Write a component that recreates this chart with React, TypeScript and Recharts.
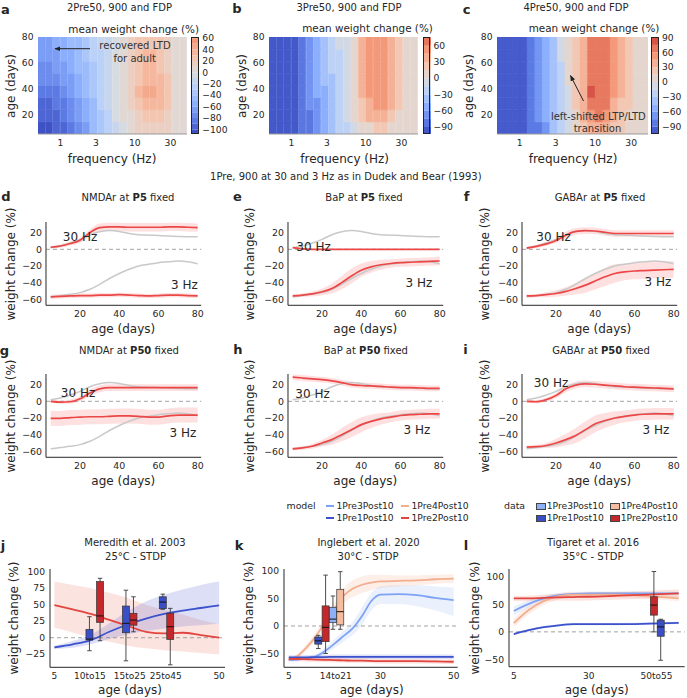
import React from "react";
import { BarChart, Bar, Cell, ComposedChart, Line, Area, XAxis, YAxis, ReferenceLine } from "recharts";

const FONT = "'DejaVu Sans', sans-serif";
const INK = "#262626";

// heat maps a-c: rows go from young to old, columns are log10(frequency) bins
const LOGF = [-0.25, -0.15, -0.05, 0.05, 0.15, 0.25, 0.35, 0.45, 0.55, 0.65, 0.75, 0.85, 0.95, 1.05, 1.15, 1.25, 1.35, 1.45, 1.55, 1.65];
const AGE_EDGES = [5, 14.375, 23.75, 33.125, 42.5, 51.875, 61.25, 70.625, 80];
const FREQ_TICKS = [1, 3, 10, 30];
const AGE_TICKS = [20, 40, 60, 80];

const MAP_2PRE = [
  [-104, -102, -98, -93, -86, -76, -64, -50, -36, -24, -12, -3, 4, 10, 15, 18, 16, 10, 4, 0],
  [-100, -98, -94, -88, -80, -70, -58, -46, -33, -21, -10, 0, 8, 18, 26, 28, 24, 15, 6, 2],
  [-94, -92, -88, -82, -74, -64, -53, -42, -30, -19, -8, 2, 12, 26, 36, 38, 32, 20, 8, 3],
  [-88, -86, -82, -76, -68, -58, -48, -38, -27, -17, -6, 4, 16, 30, 40, 42, 35, 22, 9, 3],
  [-80, -78, -74, -68, -61, -53, -44, -35, -25, -15, -5, 5, 16, 28, 36, 38, 32, 20, 8, 3],
  [-74, -72, -68, -63, -56, -49, -41, -32, -23, -14, -4, 5, 15, 26, 32, 33, 28, 18, 7, 3],
  [-68, -66, -63, -58, -52, -45, -38, -30, -21, -13, -4, 5, 15, 25, 30, 30, 26, 16, 7, 3],
  [-64, -62, -59, -55, -49, -43, -36, -28, -20, -12, -3, 5, 14, 24, 28, 28, 24, 15, 6, 3],
];
const MAP_3PRE = [
  [-101, -101, -100, -97, -90, -80, -68, -55, -42, -29, -16, -4, 6, 14, 20, 20, 14, 6, 1, 0],
  [-101, -101, -100, -96, -88, -77, -64, -50, -36, -22, -8, 5, 20, 33, 38, 36, 28, 12, 3, 0],
  [-101, -100, -99, -95, -86, -74, -61, -47, -33, -19, -5, 10, 28, 42, 48, 45, 33, 18, 4, 0],
  [-101, -100, -99, -94, -85, -73, -60, -46, -32, -18, -4, 12, 32, 48, 55, 48, 36, 20, 5, 0],
  [-101, -100, -98, -93, -84, -72, -59, -45, -31, -17, -3, 13, 32, 45, 48, 45, 35, 20, 5, 0],
  [-101, -100, -98, -93, -83, -71, -58, -44, -30, -16, -2, 13, 33, 45, 47, 45, 35, 20, 5, 0],
  [-101, -100, -98, -92, -83, -71, -58, -44, -30, -16, -2, 14, 34, 46, 48, 46, 35, 20, 5, 0],
  [-101, -100, -98, -92, -82, -70, -57, -43, -29, -15, -1, 14, 34, 46, 50, 46, 35, 19, 5, 0],
];
const MAP_4PRE = [
  [-103, -103, -102, -98, -90, -78, -62, -45, -28, -12, 5, 20, 35, 40, 35, 25, 15, 10, 6, 4],
  [-103, -103, -101, -97, -88, -75, -58, -40, -22, -5, 12, 32, 55, 60, 48, 35, 22, 14, 8, 5],
  [-103, -102, -100, -95, -86, -72, -55, -37, -19, -2, 15, 38, 70, 72, 60, 42, 28, 16, 9, 5],
  [-103, -102, -100, -95, -85, -71, -54, -36, -18, -1, 16, 40, 78, 72, 62, 45, 30, 18, 10, 5],
  [-103, -102, -100, -94, -84, -70, -53, -35, -17, 0, 17, 40, 66, 68, 60, 45, 30, 18, 10, 5],
  [-103, -102, -99, -94, -83, -69, -52, -34, -16, 1, 18, 40, 65, 67, 60, 45, 30, 18, 10, 5],
  [-103, -102, -99, -93, -82, -68, -51, -33, -15, 2, 18, 40, 65, 67, 60, 45, 30, 18, 10, 5],
  [-103, -102, -99, -93, -82, -67, -50, -32, -14, 2, 18, 40, 64, 66, 60, 45, 30, 18, 10, 5],
];

const CB_LEVELS_A = [-110, -100, -90, -80, -70, -60, -50, -40, -30, -20, -10, 0, 10, 20, 30, 40, 50, 60, 70];
const CB_LEVELS_BC = [-105, -90, -75, -60, -45, -30, -15, 0, 15, 30, 45, 60, 75, 90, 105];
const CB_TICKS_A = [-100, -80, -60, -40, -20, 0, 20, 40, 60];
const CB_TICKS_B = [-90, -60, -30, 0, 30, 60];
const CB_TICKS_C = [-90, -60, -30, 0, 30, 60, 90];

// panels d-i: 30 Hz and 3 Hz responses vs age
const AGES = [5, 10, 15, 20, 25, 30, 35, 40, 45, 50, 55, 60, 65, 70, 75, 80];
const GRAY_30 = [2, 4, 7.5, 12, 17.5, 21, 22.5, 21.5, 19, 17.5, 17, 16.5, 16, 15.5, 15, 15];
const GRAY_3 = [-57, -55.5, -54, -52, -48, -42, -35, -29, -24, -20, -18, -16, -15, -14, -15, -17.5];

const D_30 = [2.5, 4, 7, 11, 20, 26, 27, 27, 26.5, 26.5, 26.5, 26.5, 27, 27, 26.5, 26];
const D_30_SD = [1.5, 2, 2.5, 3, 4, 5, 5, 5, 5, 5, 5, 5, 5, 5, 5, 5];
const D_3 = [-57, -56.5, -56, -55.5, -55.5, -55, -55, -54.5, -55, -55.5, -56, -55.5, -55, -55, -55.5, -56];
const D_3_SD = [2.5, 2.5, 2.5, 2.5, 2.5, 2.5, 2.5, 2.5, 2.5, 2.5, 2.5, 2.5, 2.5, 2.5, 2.5, 2.5];

const E_30 = [2, 0.5, 0, 0, 0, 0, 0, 0, 0, 0, 0, 0, 0, 0, 0, 0];
const E_30_SD = [1, 0.5, 0.5, 0.5, 0.5, 0.5, 0.5, 0.5, 0.5, 0.5, 0.5, 0.5, 0.5, 0.5, 0.5, 0.5];
const E_3 = [-56, -55, -53.5, -51, -47, -40, -32, -25, -21, -18.5, -17, -16, -15.5, -15, -14.5, -14];
const E_3_SD = [2, 2, 3, 4, 6, 8, 9, 8, 7, 6, 5, 5, 5, 5, 5, 5];

const F_30 = [1.5, 3.5, 6.5, 10.5, 17, 21.5, 22.5, 22, 20.5, 19, 19, 19, 19, 19, 19, 19];
const F_30_SD = [1.5, 2, 2.5, 3, 4, 4, 4, 4, 4, 4, 4, 4, 4, 4, 4, 4];
const F_3 = [-56, -55.5, -54.5, -53, -50.5, -47, -43, -38, -33, -29, -27, -26, -25.5, -25, -24.5, -24];
const F_3_SD = [2, 2, 3, 4, 5, 7, 9, 10, 11, 11, 10, 10, 10, 10, 10, 10];

const G_30 = [0, -1, -0.5, 3, 10, 15, 16.5, 16.5, 16.5, 16.5, 16.5, 16.5, 16.5, 16.5, 16.5, 16.5];
const G_30_SD = [1.5, 2, 2.5, 3, 4, 4, 4, 4, 4, 4, 4, 4, 4, 4, 4, 4];
const G_3 = [-20.5, -20.5, -19.5, -19, -18.5, -18.5, -18, -17.5, -17.5, -18, -19, -19, -17.5, -16.5, -16.5, -16.5];
const G_3_SD = [9, 9, 9, 9, 9, 9, 9, 9, 9, 9, 9, 9, 9, 9, 9, 9];

const H_30 = [29, 28, 27, 26, 24.5, 22.5, 20, 19, 18.5, 18, 17, 16.5, 16.5, 16, 15.5, 15.5];
const H_30_SD = [3.5, 3.5, 3.5, 3.5, 3.5, 3.5, 3.5, 3.5, 3.5, 3.5, 3.5, 3.5, 3.5, 3.5, 3.5, 3.5];
const H_3 = [-57, -56, -54, -50, -46, -40, -34, -28, -24, -21, -19, -17, -16, -15.5, -15, -15];
const H_3_SD = [2, 2, 3, 4, 6, 8, 9, 9, 8, 7, 6, 6, 6, 6, 6, 6];

const I_30 = [0, -0.5, 2, 7, 15, 19.5, 21, 20.5, 19.5, 18.5, 17.5, 17, 16.5, 16, 15.5, 15];
const I_30_SD = [1.5, 2, 2.5, 3, 4, 4, 4, 4, 4, 4, 4, 4, 4, 4, 4, 4];
const I_3 = [-55, -54.5, -53, -50, -46, -41, -34, -27, -23, -20, -18, -16.5, -15.5, -15, -15, -15];
const I_3_SD = [2, 2, 3, 5, 7, 9, 10, 10, 9, 8, 7, 7, 7, 7, 7, 7];

// panels j-l: model curves (line, lower, upper) and data boxes [min, q1, median, q3, max]
const J_AGE = [5, 10, 15, 20, 25, 30, 35, 40, 45, 50];
const J_DBLUE = [-14.5, -10, -3.5, 9, 20, 29, 36, 41, 45, 49];
const J_DBLUE_LO = [-17, -15, -10, -2, 5, 10, 14, 17, 19, 21];
const J_DBLUE_HI = [-12, -5, 5, 22, 40, 55, 65, 73, 80, 85];
const J_RED = [49.5, 43, 36, 27, 18, 9, 6.5, 7.5, 4, 0];
const J_RED_LO = [15, 8, 0, -6, -12, -16, -19, -21, -23, -25];
const J_RED_HI = [85, 80, 75, 68, 60, 50, 42, 35, 27, 20];
const J_BOX_X = [14.64, 17.54, 24.61, 26.66, 34.67, 36.71];
const J_BOX_KIND = ["dblue", "red", "dblue", "red", "dblue", "red"];
const J_BOX_STATS = [
  [-19.7, -3.5, -2, 12.7, 31.8],
  [-4.5, 23.3, 33, 85, 90],
  [-35, 7.6, 21.8, 48, 72],
  [9, 19, 26.8, 37, 62],
  [43, 44, 54, 62, 66],
  [-41, -2.5, 16.7, 37, 44.5],
];

const K_AGE = [5, 7.5, 10, 12.5, 15, 17.5, 20, 22.5, 25, 27.5, 30, 35, 40, 45, 50];
const K_LBLUE = [-62, -61, -59, -55, -45, -32, -18, -4, 18, 45, 57, 58, 56, 51, 47];
const K_LBLUE_LO = [-65, -64, -62, -59, -51, -40, -28, -16, 2, 28, 40, 40, 36, 28, 18];
const K_LBLUE_HI = [-59, -58, -56, -51, -39, -24, -8, 8, 34, 60, 72, 74, 74, 72, 70];
const K_PEACH = [-62, -54, -38, -18, 8, 32, 55, 68, 75, 79, 81, 82, 83, 85, 86];
const K_PEACH_LO = [-65, -58, -44, -26, -2, 20, 41, 53, 60, 65, 69, 72, 74, 77, 78];
const K_PEACH_HI = [-59, -50, -32, -10, 18, 44, 69, 83, 90, 93, 93, 92, 92, 93, 94];
const K_DBLUE = [-57, -57, -57, -56.5, -56.5, -56, -56, -56, -56, -56, -56, -56, -56, -56, -56];
const K_DBLUE_LO = [-61, -61, -61, -60.5, -60.5, -60, -60, -60, -60, -60, -60, -60, -60, -60, -60];
const K_DBLUE_HI = [-53, -53, -53, -52.5, -52.5, -52, -52, -52, -52, -52, -52, -52, -52, -52, -52];
const K_RED = [-60, -60, -60.5, -61, -61.5, -62, -62.5, -63, -63, -63.5, -64, -64, -64, -64.5, -65];
const K_RED_LO = [-64, -64, -64.5, -65, -65.5, -66, -66.5, -67, -67, -67.5, -68, -68, -68, -68.5, -69];
const K_RED_HI = [-56, -56, -56.5, -57, -57.5, -58, -58.5, -59, -59, -59.5, -60, -60, -60, -60.5, -61];
const K_BOX_X = [13.1, 15.1, 17.1, 19.1];
const K_BOX_KIND = ["dblue", "red", "lblue", "peach"];
const K_BOX_STATS = [
  [-41, -33, -27, -20, -17],
  [-50, -28.5, -2.4, 36.5, 92.5],
  [-6, 6, 12.5, 34, 54.5],
  [-6, 2, 26, 66.7, 98.7],
];

const L_AGE = [5, 10, 15, 20, 25, 30, 40, 50, 60];
const L_DBLUE = [-4, 3, 8.5, 12, 14, 14, 14, 15, 16.5];
const L_DBLUE_LO = [-6, 1, 6.5, 10, 12, 12, 12, 13, 14.5];
const L_DBLUE_HI = [-2, 5, 10.5, 14, 16, 16, 16, 17, 18.5];
const L_LBLUE = [38, 51, 61, 67, 69, 70, 70, 70, 70];
const L_LBLUE_LO = [30, 44, 56, 63, 66, 67, 67, 67, 67];
const L_LBLUE_HI = [46, 58, 66, 71, 72, 73, 73, 73, 73];
const L_PEACH = [16, 40, 56, 65, 68, 68, 68, 65, 61];
const L_PEACH_LO = [8, 32, 49, 59, 63, 63, 63, 60, 56];
const L_PEACH_HI = [24, 48, 63, 71, 73, 73, 73, 70, 66];
const L_RED = [61, 61, 62, 63, 63.5, 64, 66, 68, 70];
const L_RED_LO = [56, 56, 56, 57, 56.5, 57, 59, 61, 63];
const L_RED_HI = [66, 66, 68, 69, 70.5, 71, 73, 75, 77];
const L_BOX_X = [51.7, 53.97];
const L_BOX_KIND = ["red", "dblue"];
const L_BOX_STATS = [
  [0, 30.5, 48.8, 64, 110],
  [-51.8, -8, 9, 21.4, 23],
];

const LINE_C: Record<string, string> = { lblue: "#7ea2f4", peach: "#f3ae8e", dblue: "#3c52cc", red: "#e2453f" };
const BAND_C: Record<string, string> = {
  lblue: "rgba(135,165,245,0.28)",
  peach: "rgba(245,165,130,0.32)",
  dblue: "rgba(90,100,210,0.35)",
  red: "rgba(238,125,105,0.35)",
};
const BOX_C: Record<string, string> = { lblue: "#8db1f6", peach: "#f6bc9f", dblue: "#3a4fc6", red: "#c4282c" };

const CW_T = [0, 0.125, 0.25, 0.375, 0.5, 0.625, 0.75, 0.875, 1];
const CW_RGB = [
  [59, 76, 192], [98, 130, 234], [141, 176, 254], [184, 208, 249], [221, 221, 221],
  [245, 196, 173], [244, 154, 123], [222, 96, 77], [180, 4, 38],
];

function coolwarm(t: number) {
  const u = Math.max(0, Math.min(1, t));
  let i = 0;
  while (i < CW_T.length - 2 && u > CW_T[i + 1]) i++;
  const f = (u - CW_T[i]) / (CW_T[i + 1] - CW_T[i]);
  const c = CW_RGB[i].map((v, k) => Math.round(v + (CW_RGB[i + 1][k] - v) * f));
  return `rgb(${c[0]},${c[1]},${c[2]})`;
}

function levelColor(v: number, step: number, lim: number) {
  const mid = (Math.floor(v / step) + 0.5) * step;
  return coolwarm(0.5 + mid / (2 * lim));
}

const fmt = (v: number) => (v < 0 ? `\u2212${Math.abs(v)}` : `${v}`);
const tickStyle = (s = 9.4) => ({ fontSize: s, fill: INK, fontFamily: FONT });

type Box = { x: number; y: number; w: number; h: number };
const PL = 40;
const PR = 6;
const PT = 6;
const PB = 30;

const frame = (b: Box): React.CSSProperties => ({ position: "absolute", left: b.x - PL, top: b.y - PT });

function HeatMap({ grid, box, step, lim }: { grid: number[][]; box: Box; step: number; lim: number }) {
  const rows = LOGF.map((lf) => {
    const r: Record<string, number> = { lf, base: AGE_EDGES[0] };
    grid.forEach((_, k) => {
      r[`r${k}`] = AGE_EDGES[k + 1] - AGE_EDGES[k];
    });
    return r;
  });
  return (
    <div style={frame(box)}>
      <BarChart
        width={box.w + PL + PR}
        height={box.h + PT + PB}
        data={rows}
        margin={{ top: PT, right: PR, left: 0, bottom: 0 }}
        barCategoryGap={0}
        barGap={0}
      >
        <XAxis
          dataKey="lf"
          type="number"
          domain={[-0.3, 1.7]}
          allowDataOverflow
          ticks={FREQ_TICKS.map((f) => Math.log10(f))}
          tickFormatter={(v: number) => `${Math.round(10 ** v)}`}
          interval={0}
          height={PB}
          tick={tickStyle(9.2)}
          tickLine={false}
          tickSize={3}
          tickMargin={2.5}
          axisLine={{ stroke: "#999" }}
        />
        <YAxis
          type="number"
          domain={[5, 80]}
          allowDataOverflow
          ticks={AGE_TICKS}
          interval={0}
          width={PL}
          tick={tickStyle(9.2)}
          tickLine={false}
          tickSize={2}
          tickMargin={2.5}
          axisLine={false}
        />
        <Bar dataKey="base" stackId="h" fill="none" isAnimationActive={false} />
        {grid.map((row, k) => (
          <Bar key={k} dataKey={`r${k}`} stackId="h" isAnimationActive={false}>
            {row.map((v, i) => {
              const c = levelColor(v, step, lim);
              return <Cell key={i} fill={c} stroke={c} strokeWidth={0.6} />;
            })}
          </Bar>
        ))}
      </BarChart>
    </div>
  );
}

function ColorBar({ box, levels, ticks, domain, lim }: { box: Box; levels: number[]; ticks: number[]; domain: number[]; lim: number }) {
  const segs = levels.slice(0, -1).map((lo, i) => [lo, levels[i + 1]]);
  const ordered = [...segs.filter((s) => s[0] >= 0), ...segs.filter((s) => s[1] <= 0).reverse()];
  const row: Record<string, number | string> = { k: "cb" };
  ordered.forEach(([lo, hi], i) => {
    row[`s${i}`] = lo >= 0 ? hi - lo : lo - hi;
  });
  return (
    <>
      <div style={{ position: "absolute", left: box.x, top: box.y - 6 }}>
        <BarChart
          width={box.w + 34}
          height={box.h + 12}
          data={[row]}
          margin={{ top: 6, right: 0, left: 0, bottom: 6 }}
          stackOffset="sign"
          barCategoryGap={0}
          barGap={0}
        >
          <XAxis dataKey="k" hide />
          <YAxis
            orientation="right"
            type="number"
            domain={domain}
            allowDataOverflow
            ticks={ticks}
            interval={0}
            width={34}
            tickFormatter={fmt}
            tick={tickStyle(9.2)}
            tickLine={false}
            tickSize={0}
            tickMargin={3}
            axisLine={false}
          />
          {ordered.map((s, i) => (
            <Bar key={i} dataKey={`s${i}`} stackId="c" fill={coolwarm(0.5 + (s[0] + s[1]) / (4 * lim))} isAnimationActive={false} />
          ))}
        </BarChart>
      </div>
      <div style={{ position: "absolute", left: box.x, top: box.y, width: box.w, height: box.h, border: "1px solid #222", boxSizing: "border-box" }} />
    </>
  );
}

const GRAY = "#c9c9c9";
const RED = "#ec4747";

function RatePanel({ box, r30, s30, r3, s3 }: { box: Box; r30: number[]; s30: number[]; r3: number[]; s3: number[] }) {
  const rows = AGES.map((age, i) => ({
    age,
    g30: GRAY_30[i],
    g3: GRAY_3[i],
    r30: r30[i],
    r3: r3[i],
    r30b: [r30[i] - s30[i], r30[i] + s30[i]],
    r3b: [r3[i] - s3[i], r3[i] + s3[i]],
  }));
  return (
    <div style={frame(box)}>
      <ComposedChart width={box.w + PL + PR} height={box.h + PT + PB} data={rows} margin={{ top: PT, right: PR, left: 0, bottom: 0 }}>
        <XAxis
          dataKey="age"
          type="number"
          domain={[2.6, 81.8]}
          allowDataOverflow
          ticks={[20, 40, 60, 80]}
          interval={0}
          height={PB}
          tick={tickStyle()}
          tickLine={false}
          tickSize={3}
          tickMargin={2.5}
          axisLine={{ stroke: INK }}
        />
        <YAxis
          type="number"
          domain={[-67.2, 32.8]}
          allowDataOverflow
          ticks={[-60, -40, -20, 0, 20]}
          interval={0}
          width={PL}
          tickFormatter={fmt}
          tick={tickStyle()}
          tickLine={false}
          tickSize={2}
          tickMargin={2}
          axisLine={{ stroke: INK }}
        />
        <ReferenceLine y={0} stroke="#8a8a8a" strokeDasharray="4 3" strokeWidth={0.8} />
        <Line dataKey="g30" type="monotone" stroke={GRAY} strokeWidth={1.5} dot={false} activeDot={false} isAnimationActive={false} />
        <Line dataKey="g3" type="monotone" stroke={GRAY} strokeWidth={1.5} dot={false} activeDot={false} isAnimationActive={false} />
        <Area dataKey="r30b" type="monotone" stroke="none" fill="rgba(250,120,120,0.38)" isAnimationActive={false} />
        <Area dataKey="r3b" type="monotone" stroke="none" fill="rgba(250,120,120,0.38)" isAnimationActive={false} />
        <Line dataKey="r30" type="monotone" stroke={RED} strokeWidth={1.7} dot={false} activeDot={false} isAnimationActive={false} />
        <Line dataKey="r3" type="monotone" stroke={RED} strokeWidth={1.7} dot={false} activeDot={false} isAnimationActive={false} />
      </ComposedChart>
    </div>
  );
}

function BoxShape(props: any) {
  const { x, y, width, height, payload } = props;
  if (!payload || !isFinite(y) || !isFinite(height)) return null;
  const top = Math.min(y, y + height);
  const span = Math.abs(height);
  const { min, q1, med, q3, max, fill } = payload;
  // place quartiles between the two library-scaled ends of the whisker
  const py = (v: number) => top + ((max - v) / (max - min)) * span;
  const cx = x + width / 2;
  const cap = width * 0.32;
  return (
    <g>
      <line x1={cx} x2={cx} y1={py(max)} y2={py(min)} stroke="#3a3a3a" strokeWidth={0.9} />
      <line x1={cx - cap} x2={cx + cap} y1={py(max)} y2={py(max)} stroke="#3a3a3a" strokeWidth={0.9} />
      <line x1={cx - cap} x2={cx + cap} y1={py(min)} y2={py(min)} stroke="#3a3a3a" strokeWidth={0.9} />
      <rect x={x} y={py(q3)} width={width} height={Math.max(0.5, py(q1) - py(q3))} fill={fill} stroke="#333" strokeWidth={0.7} />
      <line x1={x} x2={x + width} y1={py(med)} y2={py(med)} stroke="#111" strokeWidth={1} />
    </g>
  );
}

type Series = { kind: string; line: number[]; lo: number[]; hi: number[] };

function StatPanel({
  box, xDomain, yDomain, xTicks, xLabels, yTicks, ages, series, boxX, boxKind, boxStats,
}: {
  box: Box; xDomain: number[]; yDomain: number[]; xTicks: number[]; xLabels: string[]; yTicks: number[];
  ages: number[]; series: Series[]; boxX: number[]; boxKind: string[]; boxStats: number[][];
}) {
  const rows = ages.map((x, i) => {
    const r: Record<string, any> = { x };
    series.forEach((s) => {
      r[s.kind] = s.line[i];
      r[`${s.kind}B`] = [s.lo[i], s.hi[i]];
    });
    return r;
  });
  const boxes = boxX.map((x, i) => {
    const [min, q1, med, q3, max] = boxStats[i];
    return { x, min, q1, med, q3, max, fill: BOX_C[boxKind[i]] };
  });
  const W = box.w + PL + PR;
  const H = box.h + PT + PB;
  return (
    <>
      <div style={frame(box)}>
        <ComposedChart width={W} height={H} data={rows} margin={{ top: PT, right: PR, left: 0, bottom: 0 }}>
          <XAxis
            dataKey="x"
            type="number"
            domain={xDomain}
            allowDataOverflow
            ticks={xTicks}
            interval={0}
            tickFormatter={(_v: number, i: number) => xLabels[i]}
            height={PB}
            tick={tickStyle(9)}
            tickLine={false}
            tickSize={3}
            tickMargin={2.5}
            axisLine={{ stroke: INK }}
          />
          <YAxis
            type="number"
            domain={yDomain}
            allowDataOverflow
            ticks={yTicks}
            interval={0}
            width={PL}
            tickFormatter={fmt}
            tick={tickStyle(9.2)}
            tickLine={false}
            tickSize={2}
            tickMargin={3}
            axisLine={{ stroke: INK }}
          />
          <ReferenceLine y={0} stroke="#8a8a8a" strokeDasharray="4 3" strokeWidth={0.8} />
          {series.map((s) => (
            <Area key={`${s.kind}B`} dataKey={`${s.kind}B`} type="monotone" stroke="none" fill={BAND_C[s.kind]} isAnimationActive={false} />
          ))}
          {series.map((s) => (
            <Line key={s.kind} dataKey={s.kind} type="monotone" stroke={LINE_C[s.kind]} strokeWidth={1.8} dot={false} activeDot={false} isAnimationActive={false} />
          ))}
        </ComposedChart>
      </div>
      <div style={frame(box)}>
        <BarChart width={W} height={H} data={boxes} margin={{ top: PT, right: PR, left: PL, bottom: PB }} barCategoryGap={0} barGap={0}>
          <XAxis dataKey="x" type="number" domain={xDomain} allowDataOverflow hide />
          <YAxis type="number" domain={yDomain} allowDataOverflow hide />
          <Bar dataKey={(d: any) => [d.min, d.max]} shape={(p: any) => <BoxShape {...p} />} isAnimationActive={false} />
        </BarChart>
      </div>
    </>
  );
}

function T({
  x, y, s = 10, w, r, a = "c", c = INK, children,
}: { x: number; y: number; s?: number; w?: boolean; r?: boolean; a?: "l" | "c"; c?: string; children: React.ReactNode }) {
  const shift = a === "l" ? "0" : "-50%";
  return (
    <div
      style={{
        position: "absolute",
        left: x,
        top: y,
        fontSize: s,
        fontWeight: w ? 700 : 400,
        color: c,
        lineHeight: 1,
        whiteSpace: "nowrap",
        transform: `translate(${shift}, -50%)${r ? " rotate(-90deg)" : ""}`,
      }}
    >
      {children}
    </div>
  );
}

const LEGEND_NAMES = ["1Pre3Post10", "1Pre4Post10", "1Pre1Post10", "1Pre2Post10"];
const LEGEND_KINDS = ["lblue", "peach", "dblue", "red"];

function Legend() {
  const colX = [0, 75];
  return (
    <>
      <T x={286.5} y={506} s={9.4} a="l">model</T>
      <T x={504} y={506} s={9.4} a="l">data</T>
      {LEGEND_NAMES.map((name, i) => {
        const cx = colX[i % 2];
        const y = i < 2 ? 506 : 518.3;
        return (
          <React.Fragment key={name}>
            <div style={{ position: "absolute", left: 325.7 + cx, top: y - 1, width: 8.5, height: 2, background: LINE_C[LEGEND_KINDS[i]] }} />
            <T x={336.5 + cx} y={y} s={9.2} a="l">{name}</T>
            <div style={{ position: "absolute", left: 536 + cx * 0.987, top: y - 3.5, width: 10, height: 7, background: BOX_C[LEGEND_KINDS[i]], border: "0.8px solid #444", boxSizing: "border-box" }} />
            <T x={546.7 + cx * 0.987} y={y} s={9.2} a="l">{name}</T>
          </React.Fragment>
        );
      })}
    </>
  );
}

const ROW1 = 222;
const ROW2 = 374;
const RW = 155.2;
const RH = 83.3;

export default function App() {
  return (
    <div
      style={{
        position: "absolute",
        left: 0,
        top: 0,
        width: 687,
        height: 698,
        background: "#fff",
        fontFamily: FONT,
        color: INK,
        overflow: "hidden",
      }}
    >
      {/* a-c */}
      <HeatMap grid={MAP_2PRE} box={{ x: 37.7, y: 37, w: 149, h: 97 }} step={10} lim={108} />
      <ColorBar box={{ x: 190.7, y: 37, w: 8.3, h: 97 }} levels={CB_LEVELS_A} ticks={CB_TICKS_A} domain={[-108, 62]} lim={108} />
      <HeatMap grid={MAP_3PRE} box={{ x: 269.3, y: 37, w: 149, h: 97 }} step={15} lim={103} />
      <ColorBar box={{ x: 422.7, y: 37, w: 7.5, h: 97 }} levels={CB_LEVELS_BC} ticks={CB_TICKS_B} domain={[-103, 76]} lim={103} />
      <HeatMap grid={MAP_4PRE} box={{ x: 497.3, y: 37, w: 151, h: 97 }} step={15} lim={105} />
      <ColorBar box={{ x: 651, y: 37, w: 8, h: 97 }} levels={CB_LEVELS_BC} ticks={CB_TICKS_C} domain={[-105, 91]} lim={105} />

      {/* d-i */}
      <RatePanel box={{ x: 45.7, y: ROW1, w: RW, h: RH }} r30={D_30} s30={D_30_SD} r3={D_3} s3={D_3_SD} />
      <RatePanel box={{ x: 287.7, y: ROW1, w: RW, h: RH }} r30={E_30} s30={E_30_SD} r3={E_3} s3={E_3_SD} />
      <RatePanel box={{ x: 521.7, y: ROW1, w: RW, h: RH }} r30={F_30} s30={F_30_SD} r3={F_3} s3={F_3_SD} />
      <RatePanel box={{ x: 45.7, y: ROW2, w: RW, h: RH }} r30={G_30} s30={G_30_SD} r3={G_3} s3={G_3_SD} />
      <RatePanel box={{ x: 287.7, y: ROW2, w: RW, h: RH }} r30={H_30} s30={H_30_SD} r3={H_3} s3={H_3_SD} />
      <RatePanel box={{ x: 521.7, y: ROW2, w: RW, h: RH }} r30={I_30} s30={I_30_SD} r3={I_3} s3={I_3_SD} />

      {/* j-l */}
      <StatPanel
        box={{ x: 50, y: 569, w: 175, h: 98.3 }}
        xDomain={[3.8, 51.6]}
        yDomain={[-44.8, 104.1]}
        xTicks={[5, 14.7, 25.6, 35.4, 50]}
        xLabels={["5", "10to15", "15to25", "25to45", "50"]}
        yTicks={[-25, 0, 25, 50, 75, 100]}
        ages={J_AGE}
        series={[
          { kind: "red", line: J_RED, lo: J_RED_LO, hi: J_RED_HI },
          { kind: "dblue", line: J_DBLUE, lo: J_DBLUE_LO, hi: J_DBLUE_HI },
        ]}
        boxX={J_BOX_X}
        boxKind={J_BOX_KIND}
        boxStats={J_BOX_STATS}
      />
      <StatPanel
        box={{ x: 284.3, y: 569, w: 173.7, h: 98.3 }}
        xDomain={[3.7, 51.1]}
        yDomain={[-75.1, 103.6]}
        xTicks={[5, 17.8, 30, 50]}
        xLabels={["5", "14to21", "30", "50"]}
        yTicks={[-50, 0, 50, 100]}
        ages={K_AGE}
        series={[
          { kind: "lblue", line: K_LBLUE, lo: K_LBLUE_LO, hi: K_LBLUE_HI },
          { kind: "peach", line: K_PEACH, lo: K_PEACH_LO, hi: K_PEACH_HI },
          { kind: "dblue", line: K_DBLUE, lo: K_DBLUE_LO, hi: K_DBLUE_HI },
          { kind: "red", line: K_RED, lo: K_RED_LO, hi: K_RED_HI },
        ]}
        boxX={K_BOX_X}
        boxKind={K_BOX_KIND}
        boxStats={K_BOX_STATS}
      />
      <StatPanel
        box={{ x: 509.3, y: 569, w: 175.7, h: 97.7 }}
        xDomain={[3.4, 62]}
        yDomain={[-63.5, 114.6]}
        xTicks={[5, 30, 52.6]}
        xLabels={["5", "30", "50to55"]}
        yTicks={[-50, 0, 50, 100]}
        ages={L_AGE}
        series={[
          { kind: "lblue", line: L_LBLUE, lo: L_LBLUE_LO, hi: L_LBLUE_HI },
          { kind: "peach", line: L_PEACH, lo: L_PEACH_LO, hi: L_PEACH_HI },
          { kind: "red", line: L_RED, lo: L_RED_LO, hi: L_RED_HI },
          { kind: "dblue", line: L_DBLUE, lo: L_DBLUE_LO, hi: L_DBLUE_HI },
        ]}
        boxX={L_BOX_X}
        boxKind={L_BOX_KIND}
        boxStats={L_BOX_STATS}
      />

      {/* panel letters */}
      <T x={5.5} y={9} s={13} w>a</T>
      <T x={237} y={8} s={13} w>b</T>
      <T x={466.5} y={9} s={13} w>c</T>
      <T x={6} y={196} s={13} w>d</T>
      <T x={237.5} y={196} s={13} w>e</T>
      <T x={466.5} y={196} s={13} w>f</T>
      <T x={4.5} y={350} s={13} w>g</T>
      <T x={238} y={349} s={13} w>h</T>
      <T x={465.5} y={349} s={13} w>i</T>
      <T x={3} y={545} s={13} w>j</T>
      <T x={239} y={545} s={13} w>k</T>
      <T x={466} y={545} s={13} w>l</T>

      {/* heat map titles and labels */}
      <T x={119.5} y={7.5}>2Pre50, 900 and FDP</T>
      <T x={349} y={7.5}>3Pre50, 900 and FDP</T>
      <T x={576} y={7.5}>4Pre50, 900 and FDP</T>
      <T x={133.7} y={28.5} s={10.4}>mean weight change (%)</T>
      <T x={367.5} y={28} s={10.4}>mean weight change (%)</T>
      <T x={594} y={28} s={10.4}>mean weight change (%)</T>
      <T x={11} y={86} s={12} r>age (days)</T>
      <T x={242} y={86} s={12} r>age (days)</T>
      <T x={469} y={86} s={12} r>age (days)</T>
      <T x={112} y={159} s={12}>frequency (Hz)</T>
      <T x={344.7} y={159} s={12}>frequency (Hz)</T>
      <T x={573} y={159} s={12}>frequency (Hz)</T>
      <T x={135} y={46} c="#333">recovered LTD</T>
      <T x={134.7} y={59.3} c="#333">for adult</T>
      <T x={598.3} y={116.7} c="#333">left-shifted LTP/LTD</T>
      <T x={597.5} y={129.3} c="#333">transition</T>
      <T x={345.8} y={176.7}>1Pre, 900 at 30 and 3 Hz as in Dudek and Bear (1993)</T>

      {/* d-i titles and labels */}
      <T x={128} y={197.5}>NMDAr at <b>P5</b> fixed</T>
      <T x={364} y={197.5}>BaP at <b>P5</b> fixed</T>
      <T x={600} y={197.5}>GABAr at <b>P5</b> fixed</T>
      <T x={129} y={351}>NMDAr at <b>P50</b> fixed</T>
      <T x={365.8} y={351}>BaP at <b>P50</b> fixed</T>
      <T x={601} y={351}>GABAr at <b>P50</b> fixed</T>
      {[11, 250, 485].map((x) => (
        <React.Fragment key={x}>
          <T x={x} y={264} s={12} r>weight change (%)</T>
          <T x={x} y={416} s={12} r>weight change (%)</T>
        </React.Fragment>
      ))}
      {[123.3, 365.3, 599.3].map((x) => (
        <React.Fragment key={x}>
          <T x={x} y={329.3} s={12}>age (days)</T>
          <T x={x} y={481} s={12}>age (days)</T>
        </React.Fragment>
      ))}
      <T x={80} y={236.7} s={12}>30 Hz</T>
      <T x={184.5} y={285} s={12}>3 Hz</T>
      <T x={313.5} y={246.7} s={12}>30 Hz</T>
      <T x={419} y={283} s={12}>3 Hz</T>
      <T x={553.5} y={236.7} s={12}>30 Hz</T>
      <T x={658} y={281.7} s={12}>3 Hz</T>
      <T x={78} y={393.3} s={12}>30 Hz</T>
      <T x={183} y={432.7} s={12}>3 Hz</T>
      <T x={312.5} y={394} s={12}>30 Hz</T>
      <T x={417} y={430} s={12}>3 Hz</T>
      <T x={551} y={383.3} s={12}>30 Hz</T>
      <T x={656} y={430} s={12}>3 Hz</T>

      <Legend />

      {/* j-l titles and labels */}
      <T x={135} y={543.3}>Meredith et al. 2003</T>
      <T x={135.5} y={556.7}>25°C - STDP</T>
      <T x={368.5} y={543.3}>Inglebert et al. 2020</T>
      <T x={368} y={556.7}>30°C - STDP</T>
      <T x={593} y={543.3}>Tigaret et al. 2016</T>
      <T x={593} y={556.7}>35°C - STDP</T>
      <T x={13.5} y={618} s={12} r>weight change (%)</T>
      <T x={249} y={618} s={12} r>weight change (%)</T>
      <T x={475} y={618} s={12} r>weight change (%)</T>
      <T x={130} y={690} s={12}>age (days)</T>
      <T x={371.7} y={690} s={12}>age (days)</T>
      <T x={596.7} y={690} s={12}>age (days)</T>

      <svg width={687} height={698} style={{ position: "absolute", left: 0, top: 0, pointerEvents: "none" }}>
        <defs>
          <marker id="ah" viewBox="0 0 10 10" refX="9" refY="5" markerWidth="6" markerHeight="6" orient="auto">
            <path d="M0,1 L10,5 L0,9 z" fill="#222" />
          </marker>
        </defs>
        <line x1={90} y1={48.7} x2={55} y2={48.7} stroke="#222" strokeWidth={1} markerEnd="url(#ah)" />
        <line x1={583.5} y1={101} x2={570.5} y2={75.5} stroke="#222" strokeWidth={1} markerEnd="url(#ah)" />
      </svg>
    </div>
  );
}
